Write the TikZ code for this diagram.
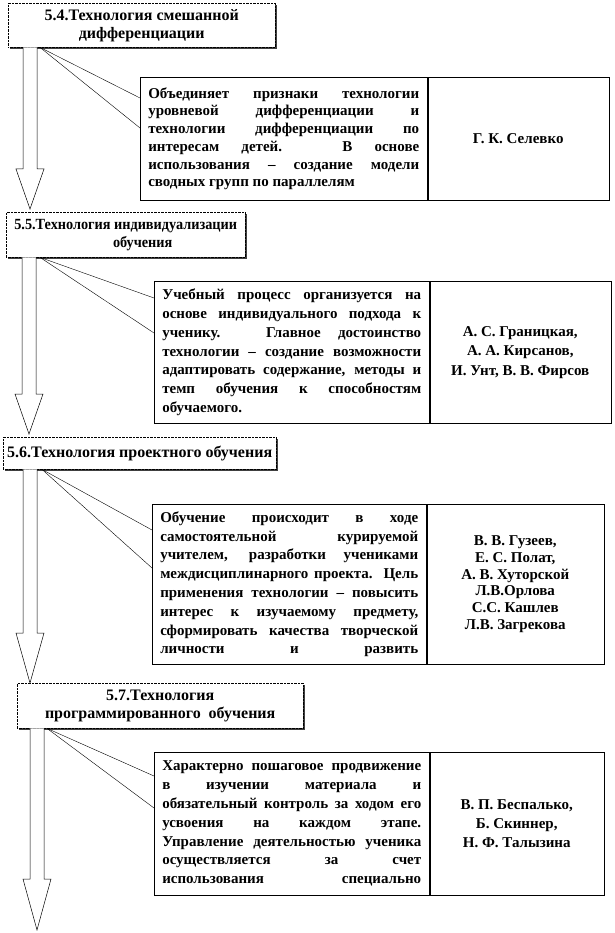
\documentclass[tikz,border=0pt]{standalone}
\usepackage{fontspec}
\setmainfont{Liberation Serif}
\newfontfamily\narrowserif[FakeStretch=0.92]{Liberation Serif}
\usetikzlibrary{calc,shadows}
\tikzset{
    titlebox/.style={draw, densely dotted, fill=white, align=center, anchor=north west,
        font=\bfseries\fontsize{16}{18}\selectfont, inner sep=1pt,
        drop shadow={shadow xshift=1.4pt, shadow yshift=-1.4pt, fill=black!75, opacity=1}},
    notebox/.style={draw, line width=0.5pt, align=justify, anchor=north west,
        font=\bfseries\fontsize{15}{18.8}\selectfont, inner xsep=8pt, inner ysep=2pt},
    authorbox/.style={draw, line width=0.5pt, align=center, anchor=north west,
        font=\bfseries\fontsize{15}{19.5}\selectfont, inner sep=2pt},
    pointer/.style={line width=0.4pt},
    blockarrow/.style={draw, fill=white, line width=0.5pt}
}
% #1 source box, #2 tip point, #3 axis x, #4 head length
\newcommand{\bigarrow}[4]{%
  \coordinate (axis) at (#3,0);
  \coordinate (tip) at (axis |- #2);
  \draw[blockarrow] ($(axis |- #1.south)+(-7,0)$) -- ($(tip)+(-7,-#4)$)
    -- ($(tip)+(-14,-#4)$) -- (tip) -- ($(tip)+(14,-#4)$)
    -- ($(tip)+(7,-#4)$) -- ($(axis |- #1.south)+(7,0)$);
}

\begin{document}
\begin{tikzpicture}[x=1pt, y=-1pt]
\useasboundingbox (0,0) rectangle (614,933);

% technology titles
\node[titlebox, minimum width=267, minimum height=44] (t54) at (8,3)
    {5.4.Технология смешанной\\дифференциации};
\node[titlebox, minimum width=239, minimum height=45,
      font=\narrowserif\bfseries\fontsize{15.5}{18}\selectfont] (t55) at (6,212)
    {5.5.Технология индивидуализации\\\hspace*{34pt}обучения};
\node[titlebox, minimum width=273, minimum height=32] (t56) at (3,437)
    {5.6.Технология проектного обучения};
\node[titlebox, minimum width=286, minimum height=45] (t57) at (17,683)
    {5.7.Технология\\программированного\ \ обучения};

% descriptions
\node[notebox, text width=271, minimum height=123,
      font=\bfseries\fontsize{15}{17.7}\selectfont] (d54) at (140,77)
    {Объединяет признаки технологии\linebreak
     уровневой дифференциации и\linebreak
     технологии дифференциации по\linebreak
     интересам детей. В основе\linebreak
     использования – создание модели\linebreak
     сводных групп по параллелям};
\node[authorbox, minimum width=181, minimum height=123] (a54) at (d54.north east)
    {Г. К. Селевко};

\node[notebox, text width=259, minimum height=142] (d55) at (154,281)
    {Учебный процесс организуется на\linebreak
     основе индивидуального подхода к\linebreak
     ученику. Главное достоинство\linebreak
     технологии – создание возможности\linebreak
     адаптировать содержание, методы и\linebreak
     темп обучения к способностям\linebreak
     обучаемого.};
\node[authorbox, minimum width=181, minimum height=142] (a55) at (d55.north east)
    {А. С. Границкая,\\А. А. Кирсанов,\\И. Унт, В. В. Фирсов};

\node[notebox, text width=258, minimum height=160] (d56) at (152,504)
    {\parfillskip=0pt
     Обучение происходит в ходе\linebreak
     самостоятельной курируемой\linebreak
     учителем, разработки учениками\linebreak
     междисциплинарного проекта. Цель\linebreak
     применения технологии – повысить\linebreak
     интерес к изучаемому предмету,\linebreak
     сформировать качества творческой\linebreak
     личности и развить\par};
\node[authorbox, minimum width=177, minimum height=160,
      font=\bfseries\fontsize{15}{16.8}\selectfont] (a56) at (d56.north east)
    {В. В. Гузеев,\\Е. С. Полат,\\А. В. Хуторской\\Л.В.Орлова\\С.С. Кашлев\\Л.В. Загрекова};

\node[notebox, text width=259, minimum height=143] (d57) at (154,752)
    {\parfillskip=0pt
     Характерно пошаговое продвижение\linebreak
     в изучении материала и\linebreak
     обязательный контроль за ходом его\linebreak
     усвоения на каждом этапе.\linebreak
     Управление деятельностью ученика\linebreak
     осуществляется за счет\linebreak
     использования специально\par\vspace*{10pt}};
\node[authorbox, minimum width=174, minimum height=143,
      font=\bfseries\fontsize{15}{19}\selectfont] (a57) at (d57.north east)
    {В. П. Беспалько,\\Б. Скиннер,\\Н. Ф. Талызина};

% callout pointers
\coordinate (w54) at ($(t54.south west)+(32,0)$);
\coordinate (w55) at ($(t55.south west)+(34,0)$);
\coordinate (w56) at ($(t56.south west)+(39,0)$);
\coordinate (w57) at ($(t57.south west)+(30,0)$);
\draw[pointer] (w54) -- ($(d54.north west)+(0,21)$);
\draw[pointer] (w54) -- ($(d54.north west)+(0,51)$);
\draw[pointer] (w55) -- ($(d55.north west)+(0,17)$);
\draw[pointer] (w55) -- ($(d55.north west)+(0,52)$);
\draw[pointer] (w56) -- ($(d56.north west)+(0,26)$);
\draw[pointer] (w56) -- ($(d56.north west)+(0,64)$);
\draw[pointer] (w57) -- ($(d57.north west)+(0,24)$);
\draw[pointer] (w57) -- ($(d57.north west)+(0,56)$);

% block arrows
\coordinate (e55) at ($(t55.north)+(0,-3)$);
\coordinate (e56) at ($(t56.north)+(0,-3)$);
\coordinate (e58) at (37,930);
\bigarrow{t54}{e55}{30}{40}
\bigarrow{t55}{e56}{29}{40}
\bigarrow{t56}{t57.north}{30}{50}
\bigarrow{t57}{e58}{37}{51}
\end{tikzpicture}
\end{document}
